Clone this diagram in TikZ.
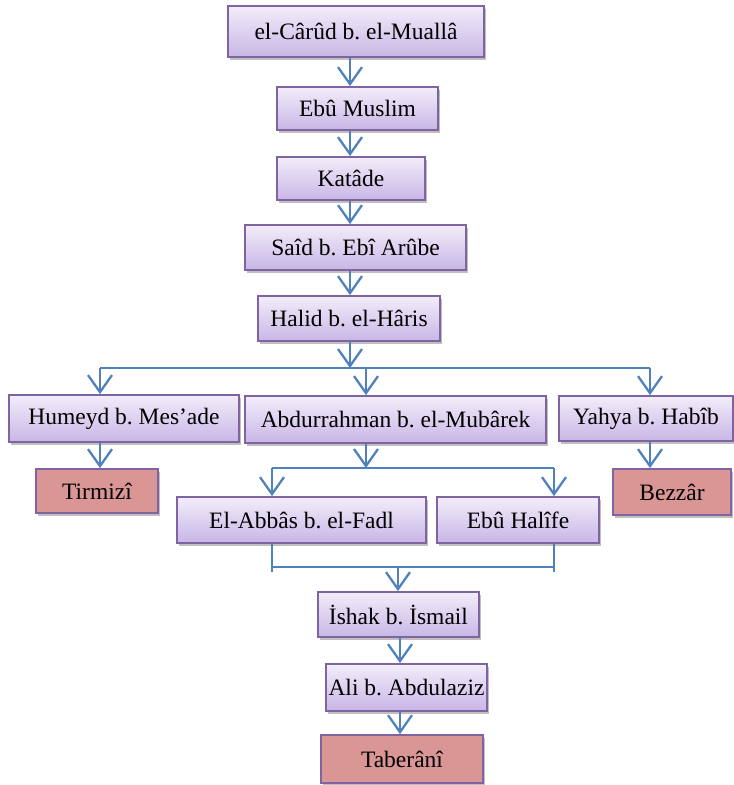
\documentclass[tikz,border=0pt]{standalone}
\usepackage{fontspec}
\setmainfont{Liberation Serif}
\frenchspacing
\usetikzlibrary{arrows.meta,shadows}
\definecolor{lineblue}{RGB}{79,129,189}
\definecolor{boxborder}{RGB}{128,100,162}
\definecolor{boxtop}{RGB}{242,237,250}
\definecolor{boxbot}{RGB}{200,182,230}
\definecolor{redfill}{RGB}{217,150,148}
\tikzset{
  pbox/.style={draw=boxborder, line width=1.8pt, top color=boxtop, bottom color=boxbot,
    drop shadow={shadow xshift=2pt, shadow yshift=-3pt, fill=black, opacity=0.25},
    inner sep=0pt, font=\fontsize{23.5}{27}\selectfont},
  rbox/.style={draw=boxborder, line width=1.8pt, fill=redfill,
    drop shadow={shadow xshift=2pt, shadow yshift=-3pt, fill=black, opacity=0.25},
    inner sep=0pt, font=\fontsize{23.5}{27}\selectfont},
  conn/.style={draw=lineblue, line width=2pt},
  arr/.style={conn, -{Straight Barb[length=17pt,width=24pt,line width=2.3pt]}},
}
\begin{document}
\begin{tikzpicture}[x=1pt,y=-1pt]
\useasboundingbox (0,0) rectangle (734,785);
% nodes
\node[pbox, minimum width=256pt, minimum height=51pt] (n1) at (356,31.5) {el-Cârûd b. el-Muallâ};
\node[pbox, minimum width=161pt, minimum height=43pt] (n2) at (357.5,108.5) {Ebû Muslim};
\node[pbox, minimum width=148pt, minimum height=43pt] (n3) at (351,178.5) {Katâde};
\node[pbox, minimum width=221pt, minimum height=45pt] (n4) at (355.5,247.5) {Saîd b. Ebî Arûbe};
\node[pbox, minimum width=182pt, minimum height=45pt] (n5) at (349,318.5) {Halid b. el-Hâris};
\node[pbox, minimum width=230pt, minimum height=47pt] (hum) at (124,418.5) {Humeyd b. Mes’ade};
\node[pbox, minimum width=301pt, minimum height=47pt] (abd) at (395.5,419.5) {Abdurrahman b. el-Mubârek};
\node[pbox, minimum width=174pt, minimum height=45pt] (yah) at (646,418.5) {Yahya b. Habîb};
\node[rbox, minimum width=122pt, minimum height=44pt] (tir) at (97,491) {Tirmizî};
\node[rbox, minimum width=118pt, minimum height=46pt] (bez) at (672,492) {Bezzâr};
\node[pbox, minimum width=249pt, minimum height=46pt] (abb) at (301.5,520) {El-Abbâs b. el-Fadl};
\node[pbox, minimum width=162pt, minimum height=46pt] (hal) at (518,520) {Ebû Halîfe};
\node[pbox, minimum width=161pt, minimum height=45pt] (ish) at (398.5,614.5) {İshak b. İsmail};
\node[pbox, minimum width=161pt, minimum height=47pt] (ali) at (406.5,687.5) {Ali b. Abdulaziz};
\node[rbox, minimum width=162pt, minimum height=48pt] (tab) at (402,759) {Taberânî};
% helper coordinates
\coordinate (cx) at (350,0);
\coordinate (bar1) at (0,368);
\coordinate (xh) at (100,0);
\coordinate (xa) at (366,0);
\coordinate (xy) at (650,0);
\coordinate (bar2) at (0,468);
\coordinate (xl) at (272,0);
\coordinate (xr) at (554,0);
\coordinate (bar3) at (0,567);
\coordinate (bar3e) at (0,572);
\coordinate (xm) at (398,0);
\coordinate (xb) at (400,0);
% chain
\draw[arr] (n1.south -| cx) -- (n2.north -| cx);
\draw[arr] (n2.south -| cx) -- (n3.north -| cx);
\draw[arr] (n3.south -| cx) -- (n4.north -| cx);
\draw[arr] (n4.south -| cx) -- (n5.north -| cx);
\draw[arr] (n5.south -| cx) -- (bar1 -| cx);
\draw[conn] (bar1 -| xh) -- (bar1 -| xy);
\draw[arr] (bar1 -| xh) -- (hum.north -| xh);
\draw[arr] (bar1 -| xa) -- (abd.north -| xa);
\draw[arr] (bar1 -| xy) -- (yah.north -| xy);
\draw[arr] (hum.south -| xh) -- (tir.north -| xh);
\draw[arr] (yah.south -| xy) -- (bez.north -| xy);
\draw[arr] (abd.south -| xa) -- (bar2 -| xa);
\draw[conn] (bar2 -| xl) -- (bar2 -| xr);
\draw[arr] (bar2 -| xl) -- (abb.north -| xl);
\draw[arr] (bar2 -| xr) -- (hal.north -| xr);
\draw[conn] (abb.south -| xl) -- (bar3e -| xl);
\draw[conn] (hal.south -| xr) -- (bar3e -| xr);
\draw[conn] (bar3 -| xl) -- (bar3 -| xr);
\draw[arr] (bar3 -| xm) -- (ish.north -| xm);
\draw[arr] (ish.south -| xb) -- (ali.north -| xb);
\draw[arr] (ali.south -| xb) -- (tab.north -| xb);
\end{tikzpicture}
\end{document}
